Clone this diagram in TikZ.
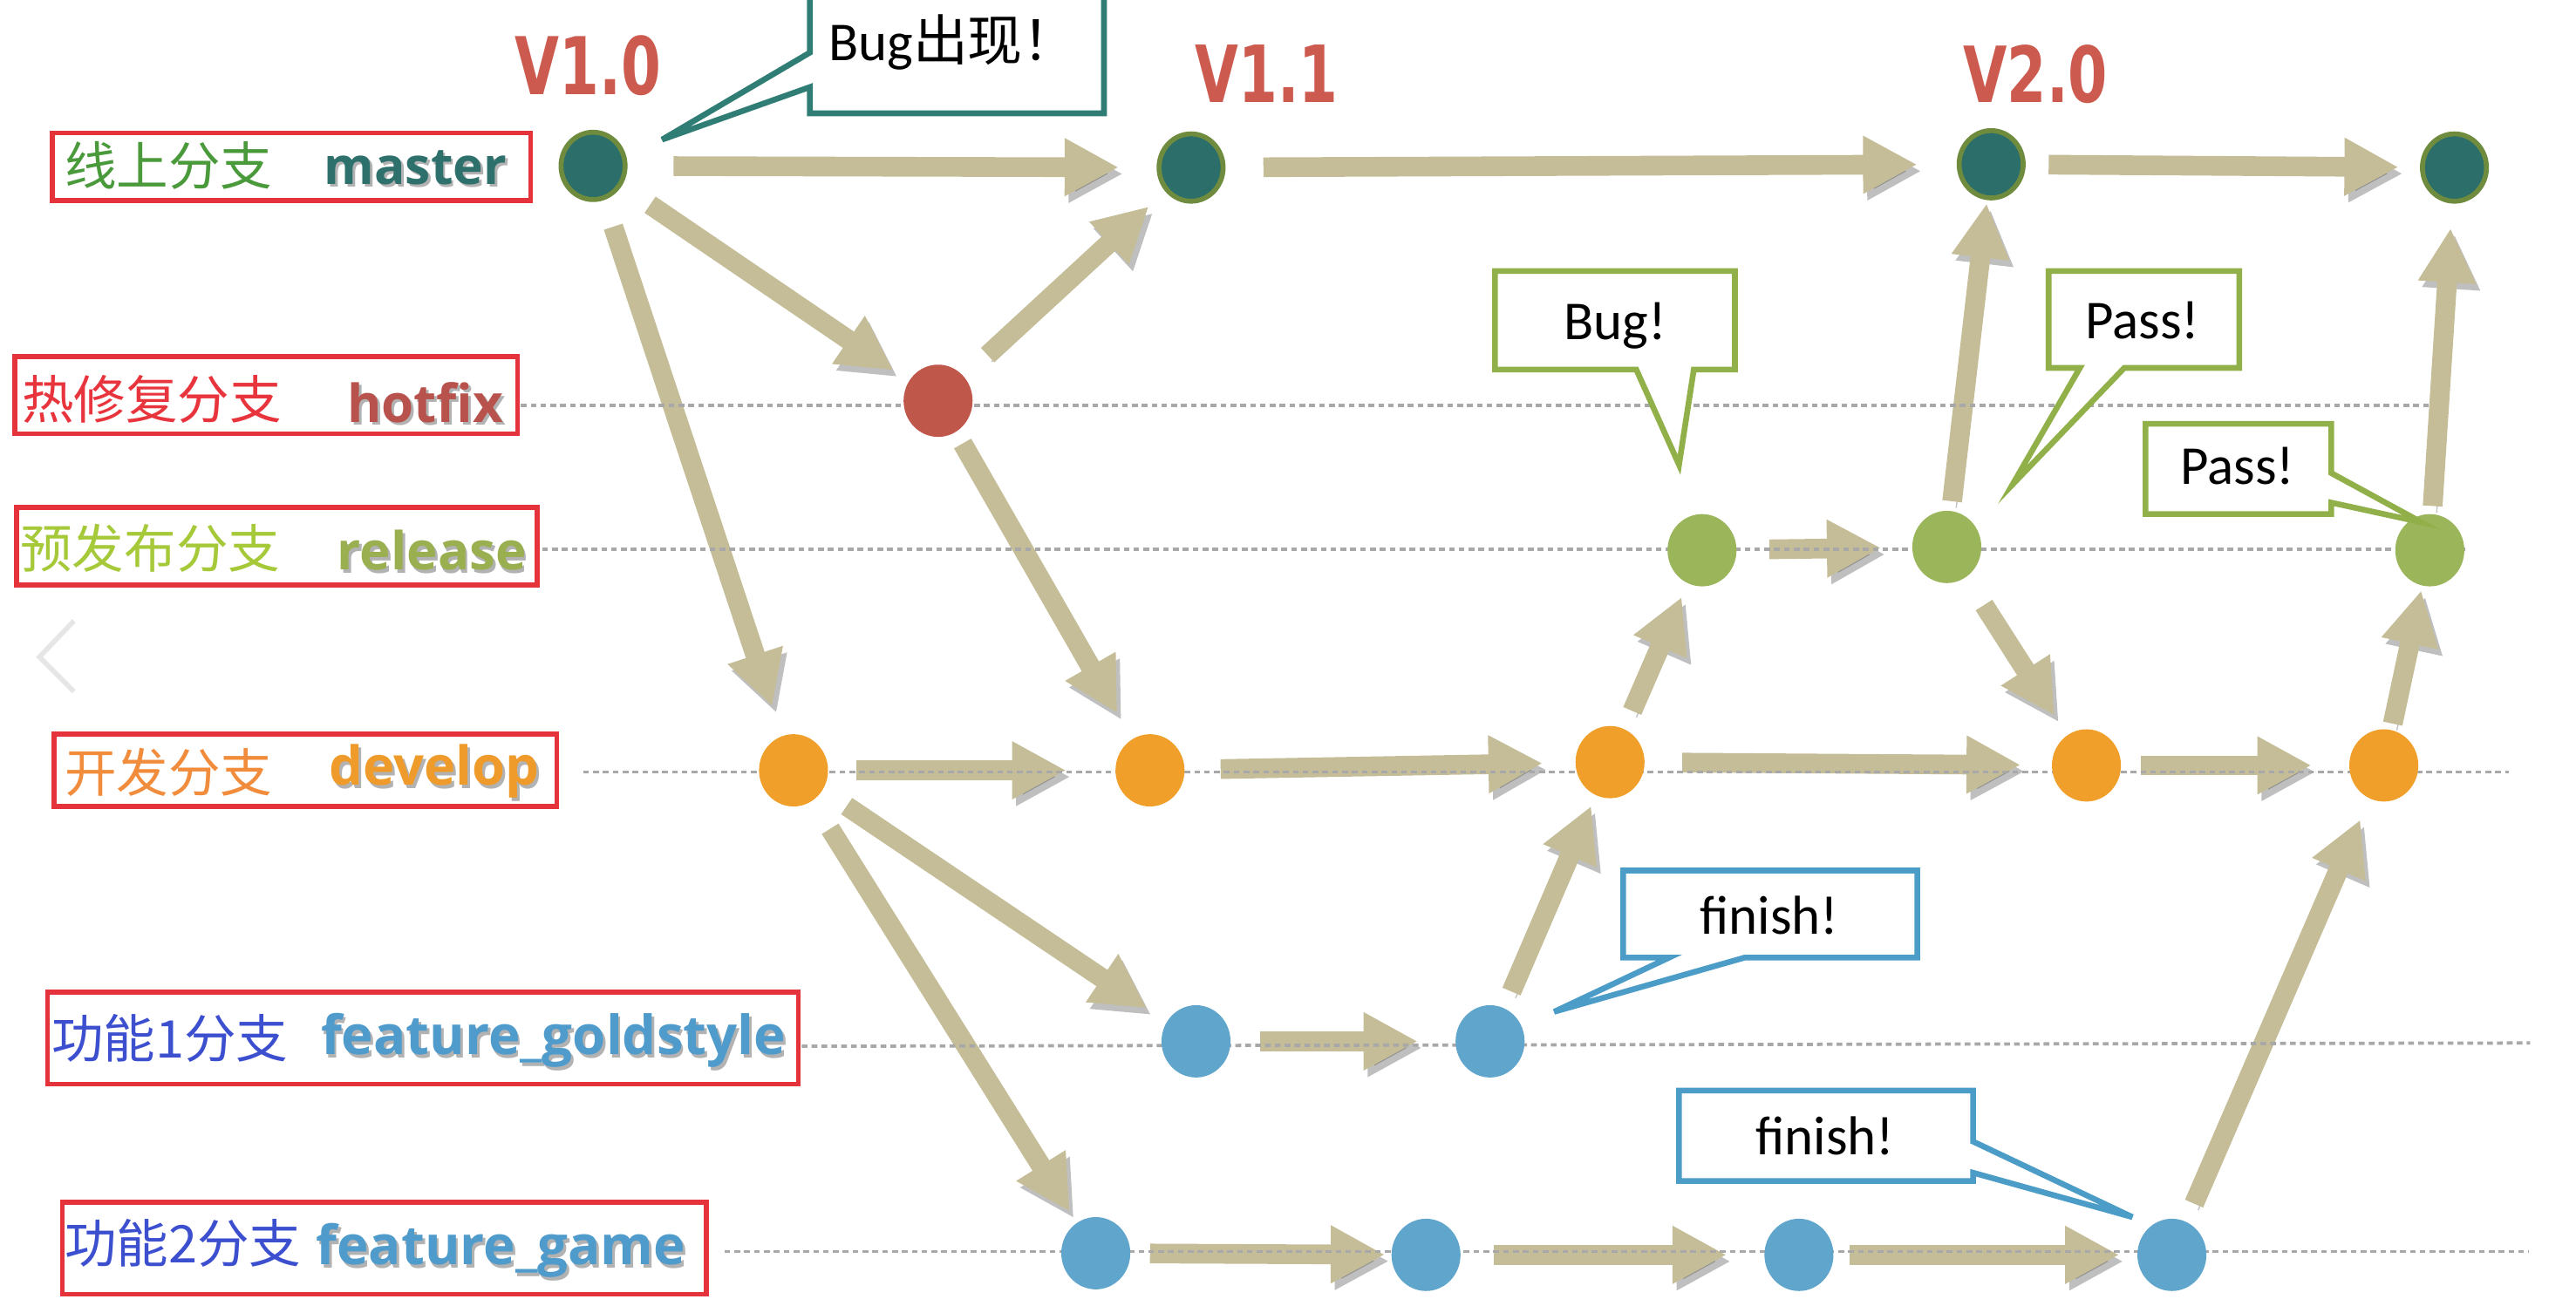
\documentclass[tikz,border=0pt]{standalone}
\usepackage{graphicx}
\usepackage{fontspec}
\setmainfont{Carlito}
\newfontfamily\cjk{Noto Sans CJK SC}
\newfontfamily\labfont{Open Sans}
\newfontfamily\verfont{DejaVu Sans}
\usetikzlibrary{arrows.meta,shapes.geometric,backgrounds}
\definecolor{arrowc}{HTML}{C4BD97}
\definecolor{mfill}{HTML}{2B6E6A}
\definecolor{mline}{HTML}{6E8B3E}
\definecolor{hfill}{HTML}{C0574B}
\definecolor{rfill}{HTML}{9BB55A}
\definecolor{dfill}{HTML}{F0A02A}
\definecolor{ffill}{HTML}{5FA5CC}
\definecolor{redbox}{HTML}{E5333B}
\definecolor{vred}{HTML}{CD5A4E}
\definecolor{tealc}{HTML}{2F7D75}
\definecolor{greenc}{HTML}{92B04A}
\definecolor{bluec}{HTML}{4C9CC8}
\definecolor{dashgray}{HTML}{A8A8A8}
\definecolor{chevc}{HTML}{E6E6E6}
\definecolor{cjkgreen}{HTML}{4A9A3C}
\definecolor{cjkred}{HTML}{E8343C}
\definecolor{cjkyg}{HTML}{A6C93A}
\definecolor{cjkorange}{HTML}{F08C3C}
\definecolor{cjkblue}{HTML}{3B4FCF}
\definecolor{enteal}{HTML}{2E706C}
\definecolor{enred}{HTML}{B8524C}
\definecolor{enolive}{HTML}{9AAF50}
\definecolor{enorange}{HTML}{EE9B2C}
\definecolor{enblue}{HTML}{4F9BCB}
\tikzset{
  commit/.style={ellipse, minimum width=0.84cm, minimum height=0.88cm, inner sep=0pt},
  mcommit/.style={commit, fill=mfill, draw=mline, line width=0.06cm, minimum width=0.78cm, minimum height=0.82cm},
  hcommit/.style={commit, fill=hfill},
  rcommit/.style={commit, fill=rfill},
  dcommit/.style={commit, fill=dfill},
  fcommit/.style={commit, fill=ffill},
  bigarrow/.style={line width=0.24cm, draw=arrowc, -{Triangle[length=0.66cm,width=0.66cm]},
     preaction={draw=black, opacity=0.25, transform canvas={shift={(0.05cm,-0.08cm)}}}},
  dline/.style={draw=dashgray, line width=0.04cm, dash pattern=on 0.07cm off 0.05cm},
  labbox/.style={draw=redbox, line width=0.06cm, inner sep=0pt},
  calloutline/.style={line width=0.07cm, fill=white, line join=miter},
  ctext/.style={inner sep=0pt, anchor=base, font=\fontsize{19}{22}\selectfont},
  cjklab/.style={anchor=west, inner sep=0pt, font=\cjk\fontsize{18}{20}\selectfont},
  enlab/.style={anchor=base west, inner sep=0pt},
  verlab/.style={inner sep=0pt, text=vred},
}
\newcommand\mylab[6]{%
  \node[enlab, text=black, opacity=0.3] (#1s) at (#2+1.5,#3+2) {\resizebox{#5}{!}{\labfont\bfseries #6}};
  \node[enlab, text=#4] (#1) at (#2,#3) {\resizebox{#5}{!}{\labfont\bfseries #6}};
}
\begin{document}
\begin{tikzpicture}[x=0.02cm,y=-0.02cm]
\useasboundingbox (0,0) rectangle (1568,795);

% commits
\node[mcommit] (M1) at (361,101) {};
\node[mcommit] (M2) at (725,102) {};
\node[mcommit] (M3) at (1212,100) {};
\node[mcommit] (M4) at (1494,102) {};
\node[hcommit] (H1) at (571,244) {};
\node[rcommit] (R1) at (1036,335) {};
\node[rcommit] (R2) at (1185,333) {};
\node[rcommit] (R3) at (1479,335) {};
\node[dcommit] (D1) at (483,469) {};
\node[dcommit] (D2) at (700,469) {};
\node[dcommit] (D3) at (980,464) {};
\node[dcommit] (D4) at (1270,466) {};
\node[dcommit] (D5) at (1451,466) {};
\node[fcommit] (F1) at (728,634) {};
\node[fcommit] (F2) at (907,634) {};
\node[fcommit] (G1) at (667,763) {};
\node[fcommit] (G2) at (868,764) {};
\node[fcommit] (G3) at (1095,764) {};
\node[fcommit] (G4) at (1322,764) {};

\begin{pgfonlayer}{background}
\foreach \a/\b/\s/\e in {M1/M2/49/44, M2/M3/44/45, M3/M4/35/34, M1/H1/42/33, H1/M2/41/35,
  M1/D1/39/41, H1/D2/30/40, D1/D2/38/51, D2/D3/43/41, D3/R1/34/31, R1/R2/41/40,
  R2/M3/28/24, R2/D4/42/36, D3/D4/44/40, D4/D5/33/44, D5/R3/26/25, R3/M4/27/37,
  D1/F1/39/36, D1/G1/42/30, F1/F2/39/44, F2/D3/33/29, G1/G2/33/25, G2/G3/41/44,
  G3/G4/31/32, G4/D5/34/36}
  \draw[bigarrow, shorten <=\s*0.02cm, shorten >=\e*0.02cm] (\a.center) -- (\b.center);
% branch guide lines
\draw[dline] (317,247) -- (1480,247);
\draw[dline] (330,334.5) -- (1500,334.5);
\draw[dline] (355,470) -- (1527,470);
\draw[dline] (488,637) -- (1540,635);
\draw[dline] (441,762) -- (1539,762);
\end{pgfonlayer}

% chevron
\draw[draw=chevc, line width=0.06cm] (45,378) -- (24,400) -- (45,421);

% label boxes
\node[labbox, minimum width=291*0.02cm, minimum height=41*0.02cm] (bm) at (177.5,101.5) {};
\node[labbox, minimum width=306*0.02cm, minimum height=47*0.02cm] (bh) at (162,240.5) {};
\node[labbox, minimum width=317*0.02cm, minimum height=47*0.02cm] (br) at (168.5,332.5) {};
\node[labbox, minimum width=306*0.02cm, minimum height=44*0.02cm] (bd) at (186,469) {};
\node[labbox, minimum width=457*0.02cm, minimum height=56*0.02cm] (bf) at (257.5,632) {};
\node[labbox, minimum width=392*0.02cm, minimum height=56*0.02cm] (bg) at (234,760) {};

\node[cjklab, text=cjkgreen] (cm) at (39,101) {线上分支};
\node[cjklab, text=cjkred] (ch) at (13,243) {热修复分支};
\node[cjklab, text=cjkyg] (cr) at (12,334) {预发布分支};
\node[cjklab, text=cjkorange] (cd) at (39,470) {开发分支};
\node[cjklab, text=cjkblue] (cf) at (31,632) {功能1分支};
\node[cjklab, text=cjkblue] (cg) at (39,757) {功能2分支};

\mylab{em}{197}{112}{enteal}{2.22cm}{master}
\mylab{eh}{211}{257}{enred}{1.9cm}{hotfix}
\mylab{er}{205}{347}{enolive}{2.3cm}{release}
\mylab{ed}{200}{478}{enorange}{2.56cm}{develop}
\mylab{ef}{195}{642}{enblue}{5.66cm}{feature\_goldstyle}
\mylab{eg}{192}{770}{enblue}{4.5cm}{feature\_game}

% version labels
\node[verlab] (v10) at (358,40) {\resizebox{1.78cm}{0.72cm}{\verfont\bfseries V1.0}};
\node[verlab] (v11) at (771,45) {\resizebox{1.74cm}{0.7cm}{\verfont\bfseries V1.1}};
\node[verlab] (v20) at (1239,45) {\resizebox{1.76cm}{0.7cm}{\verfont\bfseries V2.0}};

% callouts
\draw[calloutline, draw=tealc] (493,-10) -- (672,-10) -- (672,69) -- (493,69) -- (493,53) -- (403,85) -- (493,32) -- cycle;
\node[ctext, anchor=base west] (cb0) at (504,37) {Bug{\cjk 出现！}};

\draw[calloutline, draw=greenc] (910,165) -- (1056,165) -- (1056,225) -- (1031,225) -- (1022,283) -- (996,225) -- (910,225) -- cycle;
\node[ctext] (cb1) at (983,207) {Bug!};

\draw[calloutline, draw=greenc] (1247,165) -- (1363,165) -- (1363,224) -- (1293,224) -- (1225,295) -- (1266,224) -- (1247,224) -- cycle;
\node[ctext] (cp1) at (1304,206) {Pass!};

\draw[calloutline, draw=greenc] (1306,258) -- (1419,258) -- (1419,288) -- (1474,318) -- (1419,306) -- (1419,313) -- (1306,313) -- cycle;
\node[ctext] (cp2) at (1362,295) {Pass!};

\draw[calloutline, draw=bluec] (988,530) -- (1167,530) -- (1167,583) -- (1062,583) -- (946,616) -- (1016,583) -- (988,583) -- cycle;
\node[ctext] (cf1) at (1077,569) {finish!};

\draw[calloutline, draw=bluec] (1022,664) -- (1201,664) -- (1201,695) -- (1298,741) -- (1201,714) -- (1201,719) -- (1022,719) -- cycle;
\node[ctext] (cf2) at (1111,703) {finish!};
\end{tikzpicture}
\end{document}
